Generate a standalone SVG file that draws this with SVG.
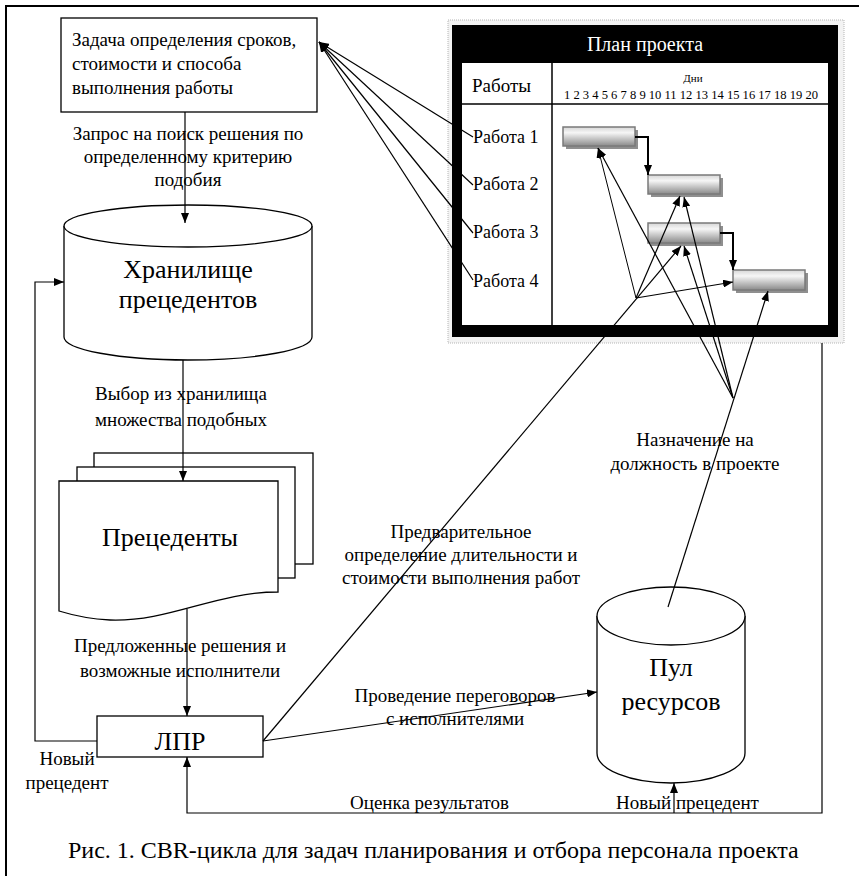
<svg xmlns="http://www.w3.org/2000/svg" width="859" height="876" viewBox="0 0 859 876" font-family="Liberation Serif, serif">
<defs>
<marker id="ah" markerWidth="10" markerHeight="8" refX="10" refY="4" orient="auto" markerUnits="userSpaceOnUse"><path d="M0,0 L10,4 L0,8 z" fill="#000"/></marker>
<linearGradient id="bar" x1="0" y1="0" x2="0" y2="1"><stop offset="0" stop-color="#d6d6d6"/><stop offset="0.3" stop-color="#f6f6f6"/><stop offset="1" stop-color="#8a8a8a"/></linearGradient>
</defs>
<style>
.lbl{font-size:19px}
.big{font-size:26px}
.mid{text-anchor:middle}
.ln{stroke:#000;stroke-width:1.2;fill:none}
.thin{stroke:#000;stroke-width:1;fill:none}
.sh{fill:#fff;stroke:#000;stroke-width:1.3}
.barsh{fill:#8f8f8f}
.barf{fill:url(#bar);stroke:#7a7a7a;stroke-width:1.5}
</style>
<rect width="859" height="876" fill="#fff"/>
<path d="M6,876 V6 H859" fill="none" stroke="#000" stroke-width="2"/>

<g id="task" font-family="Liberation Serif">
<rect x="61" y="18" width="256" height="94" class="sh"/>
<text class="lbl" x="72" y="46">Задача определения сроков,</text>
<text class="lbl" x="72" y="70">стоимости и способа</text>
<text class="lbl" x="72" y="94">выполнения работы</text>
</g>

<g id="storage" font-family="Liberation Serif">
<path d="M64,226 V337 A124,23 0 0 0 312,337 V226" class="sh"/>
<ellipse cx="188" cy="226" rx="124" ry="21" class="sh"/>
<text class="big mid" x="188" y="278">Хранилище</text>
<text class="big mid" x="188" y="308">прецедентов</text>
</g>

<g id="precedents" font-family="Liberation Serif">
<rect x="94" y="453" width="219" height="111" class="sh"/>
<rect x="77" y="467" width="218" height="111" class="sh"/>
<path d="M59,481 H278 V592 C215,592 170,622 110,620 C90,619 72,615 59,611 Z" class="sh"/>
<text class="big mid" x="170" y="546">Прецеденты</text>
</g>

<g id="lpr" font-family="Liberation Serif">
<rect x="97" y="716" width="166" height="41" class="sh"/>
<text class="big mid" x="180" y="750">ЛПР</text>
</g>

<g id="pool" font-family="Liberation Serif">
<path d="M597,616 V753 A74,30 0 0 0 745,753 V616" class="sh"/>
<ellipse cx="671" cy="616" rx="74" ry="29" class="sh"/>
<text class="big mid" x="671" y="676">Пул</text>
<text class="big mid" x="671" y="710">ресурсов</text>
</g>

<g id="plan" font-family="Liberation Serif">
<rect x="448" y="20" width="396" height="323" fill="#f3f3f3" stroke="#b5b5b5" stroke-width="1" stroke-dasharray="1,1"/>
<rect x="452" y="25" width="386" height="312" fill="#000"/>
<rect x="462" y="63" width="366" height="262" fill="#fff"/>
<text x="645" y="51" font-size="20" fill="#fff" text-anchor="middle">План проекта</text>
<line x1="552" y1="63" x2="552" y2="325" stroke="#000" stroke-width="1.5"/>
<line x1="462" y1="104" x2="828" y2="104" stroke="#000" stroke-width="1.5"/>
<text x="472" y="92" font-size="19">Работы</text>
<text x="693" y="82" font-size="11" text-anchor="middle">Дни</text>
<text x="564" y="99" font-size="13" textLength="254" lengthAdjust="spacingAndGlyphs">1 2 3 4 5 6 7 8 9 10 11 12 13 14 15 16 17 18 19 20</text>
<text x="473" y="143" font-size="18">Работа 1</text>
<text x="473" y="190" font-size="18">Работа 2</text>
<text x="473" y="238" font-size="18">Работа 3</text>
<text x="473" y="287" font-size="18">Работа 4</text>
<rect x="566" y="130" width="72" height="19" class="barsh"/>
<rect x="563" y="127" width="72" height="19" class="barf"/>
<rect x="651" y="178" width="72" height="19" class="barsh"/>
<rect x="648" y="175" width="72" height="19" class="barf"/>
<rect x="651" y="226" width="72" height="20" class="barsh"/>
<rect x="648" y="223" width="72" height="20" class="barf"/>
<rect x="736" y="273" width="72" height="20" class="barsh"/>
<rect x="733" y="270" width="72" height="20" class="barf"/>
</g>

<g id="connectors">
<path d="M185,112 V223" class="ln" marker-end="url(#ah)"/>
<path d="M183,360 V481" class="ln" marker-end="url(#ah)"/>
<path d="M187,609 V716" class="ln" marker-end="url(#ah)"/>
<path d="M97,741 H35 V282 H64" class="ln" marker-end="url(#ah)"/>
<path d="M822,343 V813 H187 V757" class="ln" marker-end="url(#ah)"/>
<path d="M674,813 V783" class="ln" stroke-width="2" marker-end="url(#ah)"/>
<path d="M263,741 L597,692" class="ln" marker-end="url(#ah)"/>
<path d="M263,741 L681,246" class="ln" stroke-width="1.4" marker-end="url(#ah)"/>
<path d="M636,298 L598,148" class="thin" marker-end="url(#ah)"/>
<path d="M636,298 L680,196" class="ln" marker-end="url(#ah)"/>
<path d="M636,298 L733,282" class="ln" marker-end="url(#ah)"/>
<path d="M733,398 L598,148" class="ln" marker-end="url(#ah)"/>
<path d="M733,398 L684,197" class="ln" marker-end="url(#ah)"/>
<path d="M733,398 L684,246" class="ln" marker-end="url(#ah)"/>
<path d="M668,607 L768,291" class="ln" marker-end="url(#ah)"/>
<path d="M473,137 L319,42" class="ln" marker-end="url(#ah)"/>
<path d="M473,185 L319,42" class="ln" marker-end="url(#ah)"/>
<path d="M473,233 L319,42" class="ln" marker-end="url(#ah)"/>
<path d="M473,280 L319,42" class="ln" marker-end="url(#ah)"/>
<path d="M635,137 H648 V175" stroke="#000" stroke-width="2" fill="none" marker-end="url(#ah)"/>
<path d="M720,233 H733 V270" stroke="#000" stroke-width="2" fill="none" marker-end="url(#ah)"/>
</g>

<g id="labels" font-family="Liberation Serif">
<text class="lbl mid" x="188" y="140">Запрос на поиск решения по</text>
<text class="lbl mid" x="188" y="163">определенному критерию</text>
<text class="lbl mid" x="188" y="186">подобия</text>
<text class="lbl mid" x="181" y="400">Выбор из хранилища</text>
<text class="lbl mid" x="181" y="426">множества подобных</text>
<text class="lbl mid" x="180" y="652">Предложенные решения и</text>
<text class="lbl mid" x="180" y="677">возможные исполнители</text>
<text class="lbl mid" x="67" y="765">Новый</text>
<text class="lbl mid" x="67" y="789">прецедент</text>
<text class="lbl" x="350" y="809">Оценка результатов</text>
<text class="lbl" x="616" y="809">Новый прецедент</text>
<text class="lbl mid" x="455" y="702">Проведение переговоров</text>
<text class="lbl mid" x="455" y="725">с исполнителями</text>
<text class="lbl mid" x="461" y="538">Предварительное</text>
<text class="lbl mid" x="461" y="561">определение длительности и</text>
<text class="lbl mid" x="461" y="584">стоимости выполнения работ</text>
<text class="lbl mid" x="695" y="446">Назначение на</text>
<text class="lbl mid" x="695" y="470">должность в проекте</text>
<text x="68" y="858" font-size="24">Рис. 1. CBR-цикла для задач планирования и отбора персонала проекта</text>
</g>
</svg>
